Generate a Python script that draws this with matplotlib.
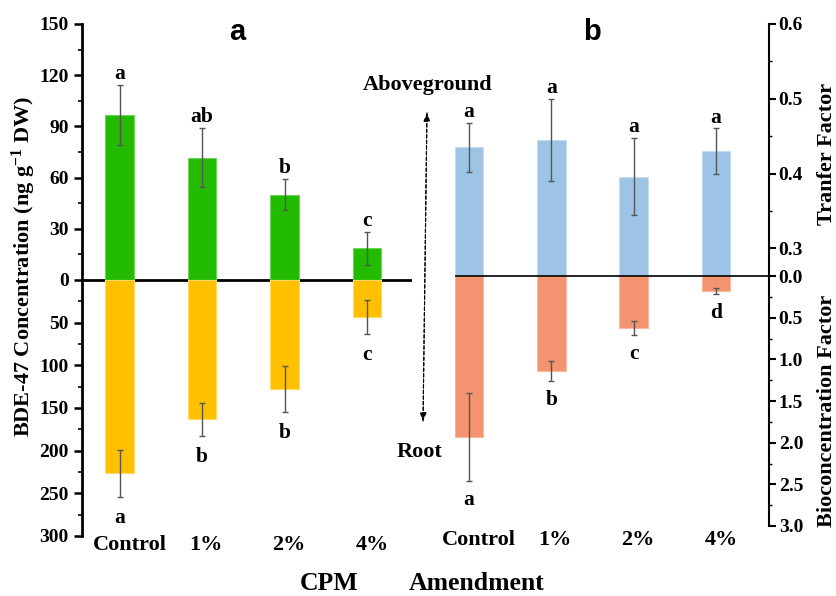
import numpy as np
import matplotlib
matplotlib.use("Agg")
import matplotlib.pyplot as plt
from matplotlib.ticker import FixedLocator, FuncFormatter
from matplotlib.patches import FancyArrowPatch
from matplotlib.transforms import ScaledTranslation

# data
groups = ["Control", "1%", "2%", "4%"]

shoot_conc = [96.7, 71.7, 50.0, 18.6]      # aboveground, ng/g DW
shoot_err = [17.5, 17.3, 9.0, 9.7]
shoot_sig = ["a", "ab", "b", "c"]
root_conc = [226.6, 163.3, 128.2, 43.8]    # root, ng/g DW
root_err = [27.7, 19.5, 27.0, 20.0]
root_sig = ["a", "b", "b", "c"]

tf = [0.435, 0.445, 0.396, 0.430]          # transfer factor
tf_err = [0.033, 0.055, 0.052, 0.031]
tf_sig = ["a", "a", "a", "a"]
bcf = [1.935, 1.142, 0.625, 0.184]         # bioconcentration factor
bcf_err = [0.53, 0.12, 0.085, 0.035]
bcf_sig = ["a", "b", "c", "d"]

plt.rcParams["font.family"] = "Liberation Serif"
plt.rcParams["font.weight"] = "bold"
plt.rcParams["mathtext.fontset"] = "custom"
plt.rcParams["mathtext.rm"] = "Liberation Serif:bold"
plt.rcParams["mathtext.default"] = "rm"

W, H = 836, 596
fig = plt.figure(figsize=(W / 100, H / 100), dpi=100)


def fig_xy(x, y):
    return x / W, 1 - y / H


def rect(x0, y0, x1, y1):
    return [x0 / W, 1 - y1 / H, (x1 - x0) / W, (y1 - y0) / H]


# panel a: upper half 0..150, lower half 0..300 (squeezed x0.5)
def fwd_a(v):
    v = np.asarray(v, dtype=float)
    return np.where(v >= 0, v, v / 2)


def inv_a(t):
    t = np.asarray(t, dtype=float)
    return np.where(t >= 0, t, t * 2)


# panel b: broken upper axis (0 -> 0.3 compressed), lower 0..3
def fwd_b(v):
    v = np.asarray(v, dtype=float)
    return np.where(v >= 0.3, 27.7 + (v - 0.3) * 747.7,
                    np.where(v >= 0, v * 27.7 / 0.3, v * 83.3))


def inv_b(t):
    t = np.asarray(t, dtype=float)
    return np.where(t >= 27.7, 0.3 + (t - 27.7) / 747.7,
                    np.where(t >= 0, t * 0.3 / 27.7, t / 83.3))


x = np.arange(len(groups))
bw = 0.35
tick_fs = 14
sig_fs = 15.5
err_kw = dict(fmt="none", ecolor="#555555", elinewidth=1, capsize=2.5, capthick=1)

# ---------------- panel a ----------------
ax = fig.add_axes(rect(82, 24, 412, 536))
ax.set_yscale("function", functions=(fwd_a, inv_a))
ax.axhline(0, color="black", lw=2, zorder=1)
ax.bar(x, shoot_conc, bw, color="#22BB00", edgecolor="#6ED35A", lw=0.8, zorder=2)
ax.bar(x, -np.array(root_conc), bw, color="#FFC000", edgecolor="#FFD966", lw=0.8, zorder=2)
ax.errorbar(x, shoot_conc, yerr=shoot_err, zorder=3, **err_kw)
ax.errorbar(x, -np.array(root_conc), yerr=root_err, zorder=3, **err_kw)

for i in range(len(groups)):
    ax.annotate(shoot_sig[i], (x[i], shoot_conc[i] + shoot_err[i]), xytext=(0, 8),
                textcoords="offset points", ha="center", va="center", fontsize=sig_fs)
    ax.annotate(root_sig[i], (x[i], -root_conc[i] - root_err[i]), xytext=(0, -15),
                textcoords="offset points", ha="center", va="center", fontsize=sig_fs)

ax.set_xlim(-0.455, 3.545)
ax.set_ylim(-300, 150)
ax.yaxis.set_major_locator(FixedLocator([-300, -250, -200, -150, -100, -50, 0, 30, 60, 90, 120, 150]))
ax.yaxis.set_minor_locator(FixedLocator([-275, -225, -175, -125, -75, -25, 15, 45, 75, 105, 135]))
ax.yaxis.set_major_formatter(FuncFormatter(lambda v, _: f"{abs(v):.0f}"))
ax.set_xticks(x)
ax.set_xticklabels(groups)
for s in ["top", "right", "bottom"]:
    ax.spines[s].set_visible(False)
ax.spines["left"].set_linewidth(2)
ax.tick_params(axis="y", which="major", length=6, width=1.8, labelsize=tick_fs)
ax.tick_params(axis="y", which="minor", length=3, width=1.2)
ax.tick_params(axis="x", length=0, pad=-1, labelsize=16)

# ---------------- panel b ----------------
ax2 = fig.add_axes(rect(455, 24, 769, 526))
ax2.set_yscale("function", functions=(fwd_b, inv_b))
ax2.bar(x, tf, bw, color="#9DC3E6", edgecolor="#C5DCF0", lw=0.8, zorder=2)
ax2.bar(x, -np.array(bcf), bw, color="#F4936F", edgecolor="#F8B9A1", lw=0.8, zorder=2)
ax2.axhline(0, color="black", lw=1.2, zorder=4)
ax2.errorbar(x, tf, yerr=tf_err, zorder=3, **err_kw)
ax2.errorbar(x, -np.array(bcf), yerr=bcf_err, zorder=3, **err_kw)

for i in range(len(groups)):
    ax2.annotate(tf_sig[i], (x[i], tf[i] + tf_err[i]), xytext=(0, 7.5),
                 textcoords="offset points", ha="center", va="center", fontsize=sig_fs)
    ax2.annotate(bcf_sig[i], (x[i], -bcf[i] - bcf_err[i]), xytext=(0, -13.5),
                 textcoords="offset points", ha="center", va="center", fontsize=sig_fs)

ax2.set_xlim(-0.17, 3.645)
ax2.set_ylim(-3.0, 0.6)
ax2.yaxis.set_major_locator(FixedLocator([-3.0, -2.5, -2.0, -1.5, -1.0, -0.5, 0.0, 0.3, 0.4, 0.5, 0.6]))
ax2.yaxis.set_minor_locator(FixedLocator([-2.75, -2.25, -1.75, -1.25, -0.75, -0.25, 0.35, 0.45, 0.55]))
ax2.yaxis.set_major_formatter(FuncFormatter(lambda v, _: f"{abs(v):.1f}"))
ax2.yaxis.tick_right()
ax2.set_xticks(x)
ax2.set_xticklabels(groups)
for s in ["top", "left", "bottom"]:
    ax2.spines[s].set_visible(False)
ax2.spines["right"].set_linewidth(1.5)
ax2.tick_params(axis="y", which="major", length=5, width=1.5, labelsize=tick_fs, pad=2)
ax2.tick_params(axis="y", which="minor", length=2.5, width=1)
ax2.tick_params(axis="x", length=0, pad=3, labelsize=16)

# nudge category labels a little to the right, as in the original
for a in (ax, ax2):
    for lab, dx in zip(a.get_xticklabels(), [10, 4, 4, 5]):
        lab.set_transform(lab.get_transform() + ScaledTranslation(dx / 100, 0, fig.dpi_scale_trans))

# ---------------- labels & annotations ----------------
fig.text(*fig_xy(24, 266), "BDE-47 Concentration (ng g$^{-1}$ DW)", rotation=90,
         ha="center", va="center", fontsize=16)
fig.text(*fig_xy(827, 154), "Tranfer Factor", rotation=90, ha="center", va="center", fontsize=16)
fig.text(*fig_xy(827, 411), "Bioconcentration Factor", rotation=90, ha="center", va="center", fontsize=16)
fig.text(*fig_xy(329, 583), "CPM", ha="center", va="center", fontsize=18.5)
fig.text(*fig_xy(477, 583), "Amendment", ha="center", va="center", fontsize=18.5)

fig.text(*fig_xy(237, 32), "a", ha="center", va="center", fontsize=21,
         family="Liberation Sans", weight="bold")
fig.text(*fig_xy(592, 32), "b", ha="center", va="center", fontsize=21,
         family="Liberation Sans", weight="bold")

fig.text(*fig_xy(428, 85), "Aboveground", ha="center", va="center", fontsize=16)
fig.text(*fig_xy(420, 452), "Root", ha="center", va="center", fontsize=16)
arrow = FancyArrowPatch(fig_xy(423, 424), fig_xy(427, 110), transform=fig.transFigure,
                        arrowstyle="-|>,head_length=0.5,head_width=0.2", mutation_scale=10,
                        lw=0.8, linestyle=(0, (3, 2)), color="black")
arrow2 = FancyArrowPatch(fig_xy(427, 110), fig_xy(423, 424), transform=fig.transFigure,
                         arrowstyle="-|>,head_length=0.5,head_width=0.2", mutation_scale=10,
                         lw=0.8, linestyle=(0, (3, 2)), color="black")
fig.add_artist(arrow)
fig.add_artist(arrow2)

fig.savefig("out.png", dpi=100)
